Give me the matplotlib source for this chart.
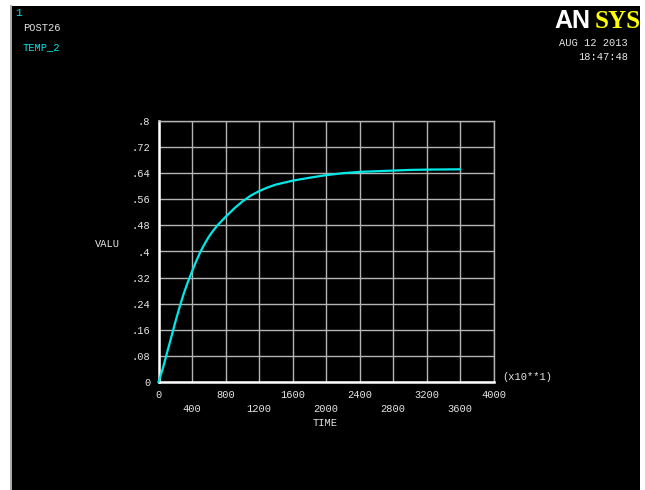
import matplotlib
matplotlib.use("Agg")
import matplotlib.pyplot as plt
from matplotlib.patches import Rectangle
from matplotlib.lines import Line2D

# TEMP_2 response from POST26
time = [0, 50, 100, 150, 200, 250, 300, 350, 400, 450, 500, 550, 600, 650,
        700, 800, 900, 1000, 1100, 1200, 1300, 1400, 1600, 1800, 2000, 2200,
        2400, 2800, 3000, 3200, 3600]
temp_2 = [0, 0.040, 0.088, 0.135, 0.183, 0.228, 0.270, 0.306, 0.339, 0.370,
          0.399, 0.423, 0.445, 0.463, 0.479, 0.506, 0.531, 0.553, 0.571,
          0.585, 0.596, 0.605, 0.617, 0.626, 0.634, 0.640, 0.644, 0.648,
          0.650, 0.651, 0.652]

x_ticks = list(range(0, 4001, 400))
y_ticks = [0, 0.08, 0.16, 0.24, 0.32, 0.4, 0.48, 0.56, 0.64, 0.72, 0.8]
y_labels = ["0", ".08", ".16", ".24", ".32", ".4", ".48", ".56", ".64", ".72", ".8"]

W, H = 645, 490
CYAN = "#00e8e8"
TXT = "#e6e6e6"
MONO = "Liberation Mono"


def px(x, y):
    return x / W, 1 - y / H


fig = plt.figure(figsize=(W / 100, H / 100), dpi=100, facecolor="white")

# black graphics window
fig.patches.append(Rectangle((12 / W, 0), (640 - 12) / W, 1 - 6 / H,
                             transform=fig.transFigure, facecolor="black",
                             edgecolor="none", zorder=-5))
fig.lines.append(Line2D([10.5 / W, 10.5 / W], [0, 1 - 6 / H],
                        transform=fig.transFigure, color="#9a9a9a", lw=1.2,
                        zorder=-4))

l, b = px(158.5, 382)
r, t = px(493.5, 121)
ax = fig.add_axes([l, b, r - l, t - b])
ax.set_facecolor("black")
ax.plot(time, temp_2, color=CYAN, lw=1.6, zorder=3, clip_on=False,
        solid_joinstyle="round")

ax.set_xlim(0, 4000)
ax.set_ylim(0, 0.8)
ax.set_xticks(x_ticks)
ax.set_xticklabels([str(v) if i % 2 == 0 else "\n" + str(v)
                    for i, v in enumerate(x_ticks)],
                   fontfamily=MONO, fontsize=7.5, color=TXT, linespacing=1.5)
ax.set_yticks(y_ticks)
ax.set_yticklabels(y_labels, fontfamily=MONO, fontsize=7.5, color=TXT)
ax.tick_params(length=0, pad=6)
ax.grid(True, color="#b4b4b4", lw=1.0)

for side in ("top", "right"):
    ax.spines[side].set_color("#b4b4b4")
    ax.spines[side].set_linewidth(1.0)
for side in ("left", "bottom"):
    ax.spines[side].set_color("white")
    ax.spines[side].set_linewidth(1.8)

fig.text(*px(325, 423), "TIME", fontfamily=MONO, fontsize=7.5, color=TXT,
         ha="center", va="center")
fig.text(*px(107, 244), "VALU", fontfamily=MONO, fontsize=7.5, color=TXT,
         ha="center", va="center")
fig.text(*px(502, 377), "(x10**1)", fontfamily=MONO, fontsize=7.5, color=TXT,
         ha="left", va="center")

# header block
fig.text(*px(15, 13), "1", fontfamily=MONO, fontsize=8, color=CYAN,
         ha="left", va="center")
fig.text(*px(23, 28), "POST26", fontfamily=MONO, fontsize=7.5, color=TXT,
         ha="left", va="center")
fig.text(*px(23, 47), "TEMP_2", fontfamily=MONO, fontsize=7.5, color=CYAN,
         ha="left", va="center")

fig.text(*px(554, 28), "AN", fontfamily="Liberation Sans", fontweight="bold",
         fontsize=18, color="white", ha="left", va="baseline")
fig.text(*px(641, 28), "SYS", fontfamily="Liberation Serif", fontweight="bold",
         fontsize=18, color="#ffff00", ha="right", va="baseline")
fig.text(*px(628, 43), "AUG 12 2013", fontfamily=MONO, fontsize=7.5,
         color=TXT, ha="right", va="center")
fig.text(*px(628, 57), "18:47:48", fontfamily=MONO, fontsize=7.5,
         color=TXT, ha="right", va="center")

fig.savefig("out.png", dpi=100, facecolor="white")
